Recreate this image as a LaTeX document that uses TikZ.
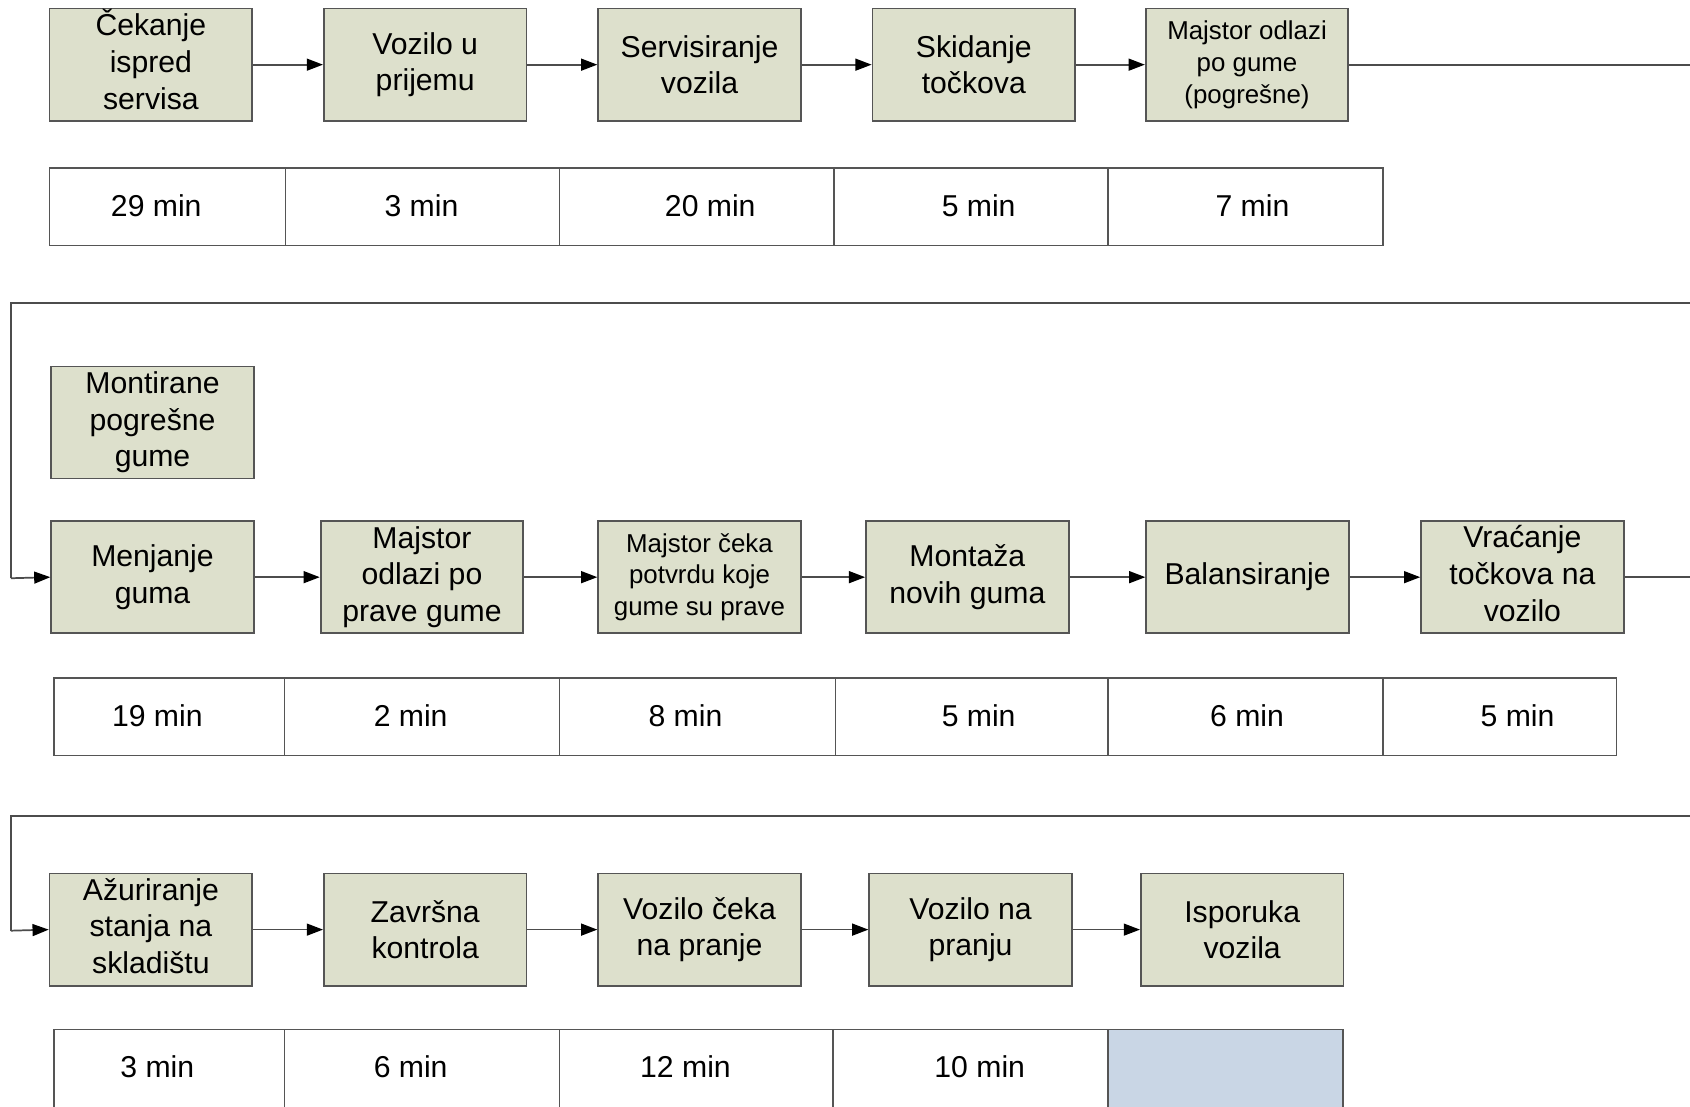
\documentclass[tikz,border=0pt]{standalone}
\usepackage{fontspec}
\setmainfont{Liberation Sans}
\usetikzlibrary{arrows.meta}
\definecolor{boxfill}{RGB}{221,224,204}
\definecolor{edgegray}{RGB}{85,85,85}
\definecolor{bluecell}{RGB}{201,214,229}
\begin{document}
\begin{tikzpicture}[x=0.5pt,y=-0.5pt,
  proc/.style={draw=edgegray, line width=0.8pt, fill=boxfill, minimum width=94pt, minimum height=52pt, inner sep=0pt, align=center, font=\fontsize{14}{17}\selectfont},
  smalltext/.style={font=\fontsize{12}{14.75}\selectfont},
  conn/.style={draw=black!70, line width=0.8pt},
  arr/.style={conn, -{Triangle[length=7.5pt,width=5.5pt,color=black]}},
  tablegrid/.style={draw=edgegray, line width=0.7pt},
  lbl/.style={inner sep=0pt, font=\fontsize{14}{17}\selectfont}]
\useasboundingbox (0,0) rectangle (1568,1027);
\fill[white] (0,0) rectangle (1568,1027);
\clip (0,0) rectangle (1568,1027);

% ---------- Row 1 ----------
\node[proc] (b1) at (140,60) {\raisebox{0.6pt}{\begin{tabular}{@{}c@{}}Čekanje\\ispred\\servisa\end{tabular}}};
\node[proc] (b2) at (394.5,60) {Vozilo u\\prijemu};
\node[proc] (b3) at (649,60) {Servisiranje\\vozila};
\node[proc] (b4) at (903.5,60) {Skidanje\\točkova};
\node[proc, smalltext] (b5) at (1157,60) {Majstor odlazi\\po gume\\(pogrešne)};
\draw[arr] (b1) -- (b2);
\draw[arr] (b2) -- (b3);
\draw[arr] (b3) -- (b4);
\draw[arr] (b4) -- (b5);
\coordinate (r1end) at (1568,60);
\draw[conn] (b5.east) -- (r1end);

\draw[tablegrid] (46,156) rectangle (1283,228);
\foreach \x in {265,519,774,1028} \draw[tablegrid] (\x,156) -- (\x,228);
\node[lbl] (t11) at (145,191) {29 min};
\node[lbl] (t12) at (391,191) {3 min};
\node[lbl] (t13) at (659,191) {20 min};
\node[lbl] (t14) at (908,191) {5 min};
\node[lbl] (t15) at (1162,191) {7 min};

% ---------- Row 2 ----------
\coordinate (r2in) at (1568,281);
\coordinate (r2a) at (10,281);
\coordinate (r2b) at (10,536.5);
\node[proc] (m0) at (141.5,392) {Montirane\\pogrešne\\gume};
\node[proc] (m1) at (141.5,535.5) {Menjanje\\guma};
\node[proc] (m2) at (391.5,535.5) {Majstor\\odlazi po\\prave gume};
\node[proc, smalltext] (m3) at (649,535.5) {Majstor čeka\\potvrdu koje\\gume su prave};
\node[proc] (m4) at (897.5,535.5) {Montaža\\novih guma};
\node[proc] (m5) at (1157.5,535.5) {Balansiranje};
\node[proc] (m6) at (1412.5,535.5) {\raisebox{0pt}{\begin{tabular}{@{}c@{}}Vraćanje\\točkova na\\vozilo\end{tabular}}};
\draw[conn] (r2in) -- (r2a) -- (r2b);
\draw[arr] (r2b) -- (m1.west);
\draw[arr] (m1) -- (m2);
\draw[arr] (m2) -- (m3);
\draw[arr] (m3) -- (m4);
\draw[arr] (m4) -- (m5);
\draw[arr] (m5) -- (m6);
\coordinate (r2end) at (1568,535.5);
\draw[conn] (m6.east) -- (r2end);

\draw[tablegrid] (50,629) rectangle (1500,701);
\foreach \x in {264,519,775,1028,1283} \draw[tablegrid] (\x,629) -- (\x,701);
\node[lbl] (t21) at (146,664) {19 min};
\node[lbl] (t22) at (381,664) {2 min};
\node[lbl] (t23) at (636,664) {8 min};
\node[lbl] (t24) at (908,664) {5 min};
\node[lbl] (t25) at (1157,664) {6 min};
\node[lbl] (t26) at (1408,664) {5 min};

% ---------- Row 3 ----------
\coordinate (r3in) at (1568,757);
\coordinate (r3a) at (10,757);
\coordinate (r3b) at (10,863.5);
\node[proc] (a1) at (140,862.5) {\raisebox{0.6pt}{\begin{tabular}{@{}c@{}}Ažuriranje\\stanja na\\skladištu\end{tabular}}};
\node[proc] (a2) at (394.5,862.5) {Završna\\kontrola};
\node[proc] (a3) at (649,862.5) {Vozilo čeka\\na pranje};
\node[proc] (a4) at (900.5,862.5) {Vozilo na\\pranju};
\node[proc] (a5) at (1152.5,862.5) {Isporuka\\vozila};
\draw[conn] (r3in) -- (r3a) -- (r3b);
\draw[arr] (r3b) -- (a1.west);
\draw[arr] (a1) -- (a2);
\draw[arr] (a2) -- (a3);
\draw[arr] (a3) -- (a4);
\draw[arr] (a4) -- (a5);

\fill[bluecell] (1028,955) rectangle (1246,1045);
\draw[tablegrid] (50,955) rectangle (1246,1045);
\foreach \x in {264,519,773,1028} \draw[tablegrid] (\x,955) -- (\x,1045);
\node[lbl] (t31) at (146,990) {3 min};
\node[lbl] (t32) at (381,990) {6 min};
\node[lbl] (t33) at (636,990) {12 min};
\node[lbl] (t34) at (909,990) {10 min};
\end{tikzpicture}
\end{document}
